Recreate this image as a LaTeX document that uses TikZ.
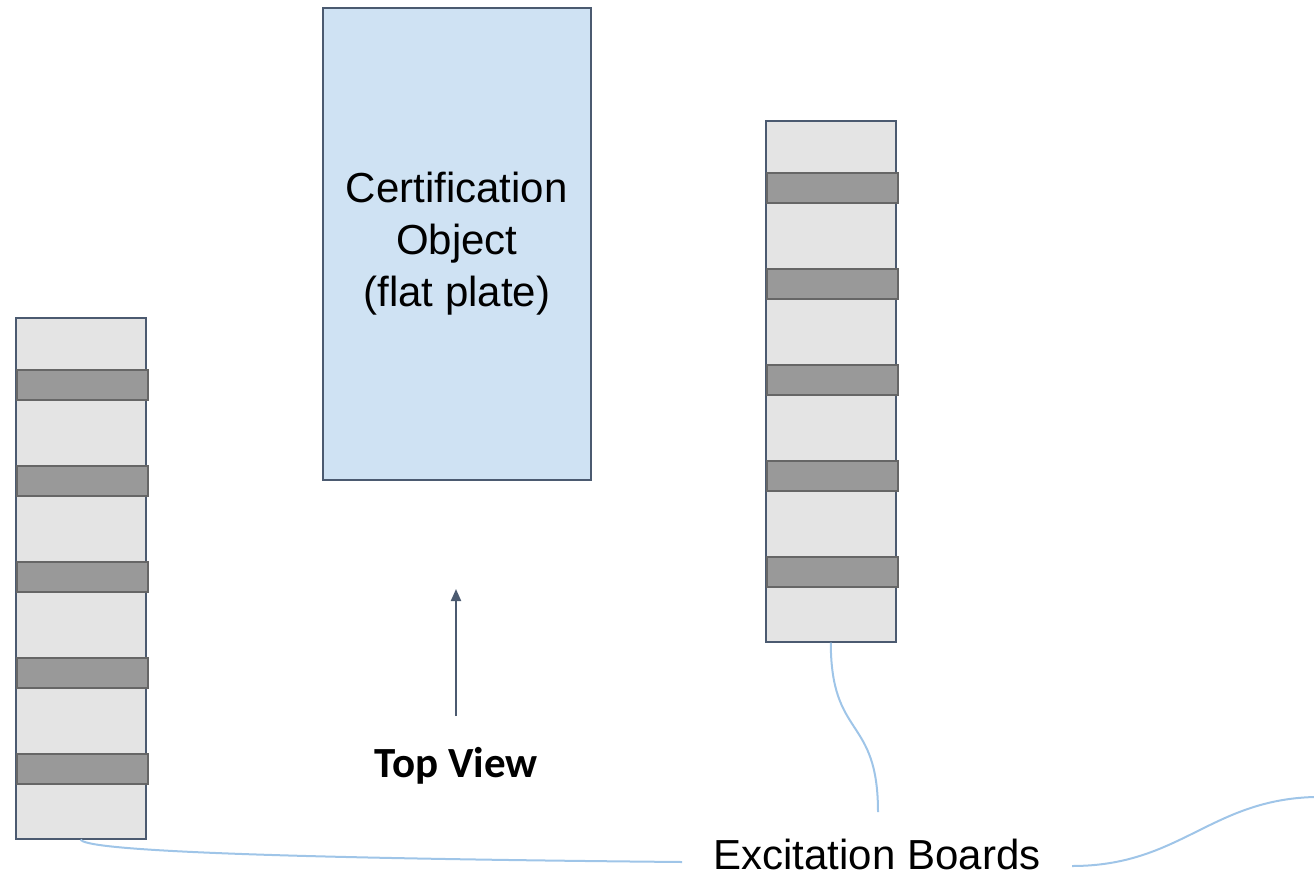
\documentclass[tikz,border=0pt]{standalone}
\usepackage{fontspec}
\setmainfont{Liberation Sans}
\newfontfamily\calib{Carlito}
\usetikzlibrary{arrows.meta}
\definecolor{boardfill}{HTML}{E4E4E4}
\definecolor{bandfill}{HTML}{999999}
\definecolor{bandline}{HTML}{666666}
\definecolor{slate}{HTML}{4B5A70}
\definecolor{platefill}{HTML}{CFE2F3}
\definecolor{leader}{HTML}{9FC5E8}
\tikzset{
  board/.style={draw=slate, fill=boardfill, line width=1.5pt, inner sep=0pt,
    minimum width=130pt, minimum height=521pt, anchor=north west},
  band/.style={draw=bandline, fill=bandfill, line width=2pt, inner sep=0pt,
    minimum width=131pt, minimum height=30pt, anchor=north west},
  plate/.style={draw=slate, fill=platefill, line width=1.5pt, inner sep=0pt,
    minimum width=268pt, minimum height=472pt, anchor=north west,
    align=center, font=\fontsize{42}{52}\selectfont},
  leaderline/.style={draw=leader, line width=2pt},
  bigtext/.style={font=\fontsize{42}{52}\selectfont},
}
\begin{document}
\begin{tikzpicture}[x=1pt, y=-1pt]
\useasboundingbox (0,0) rectangle (1314,876);

% certification object
\node[plate] (plate) at (322,7) {Certification\\Object\\(flat plate)};

% left excitation board with its five strips
\node[board] (lb) at (15,317) {};
\foreach \i/\yy in {1/369,2/465,3/561,4/657,5/753}
  \node[band] (lb\i) at (15.5,\yy) {};

% right excitation board with its five strips
\node[board] (rb) at (765,120) {};
\foreach \i/\yy in {1/172,2/268,3/364,4/460,5/556}
  \node[band] (rb\i) at (765.5,\yy) {};

% viewing direction
\node[font=\calib\bfseries\fontsize{43}{50}\selectfont, anchor=base] (tv) at (456,777) {Top View};
\coordinate (arrowtail) at (456,716);
\coordinate (arrowhead) at (456,589);
\draw[slate, line width=2pt, -{Triangle[length=12pt,width=10pt]}] (arrowtail) -- (arrowhead);

% label and its leader lines
\node[bigtext, anchor=base, inner sep=0pt] (eb) at (877,869) {Excitation Boards};
\coordinate (ebtop) at (878,812);
\coordinate (ebleft) at (682,862);
\coordinate (ebright) at (1072,866);
\coordinate (edge) at (1314,797);
\draw[leaderline] (rb.south) .. controls (831,740) and (878,715) .. (ebtop);
\draw[leaderline] (lb.south) .. controls (84,850) and (250,858) .. (ebleft);
\draw[leaderline] (ebright) .. controls (1180,866) and (1210,800) .. (edge);
\end{tikzpicture}
\end{document}
